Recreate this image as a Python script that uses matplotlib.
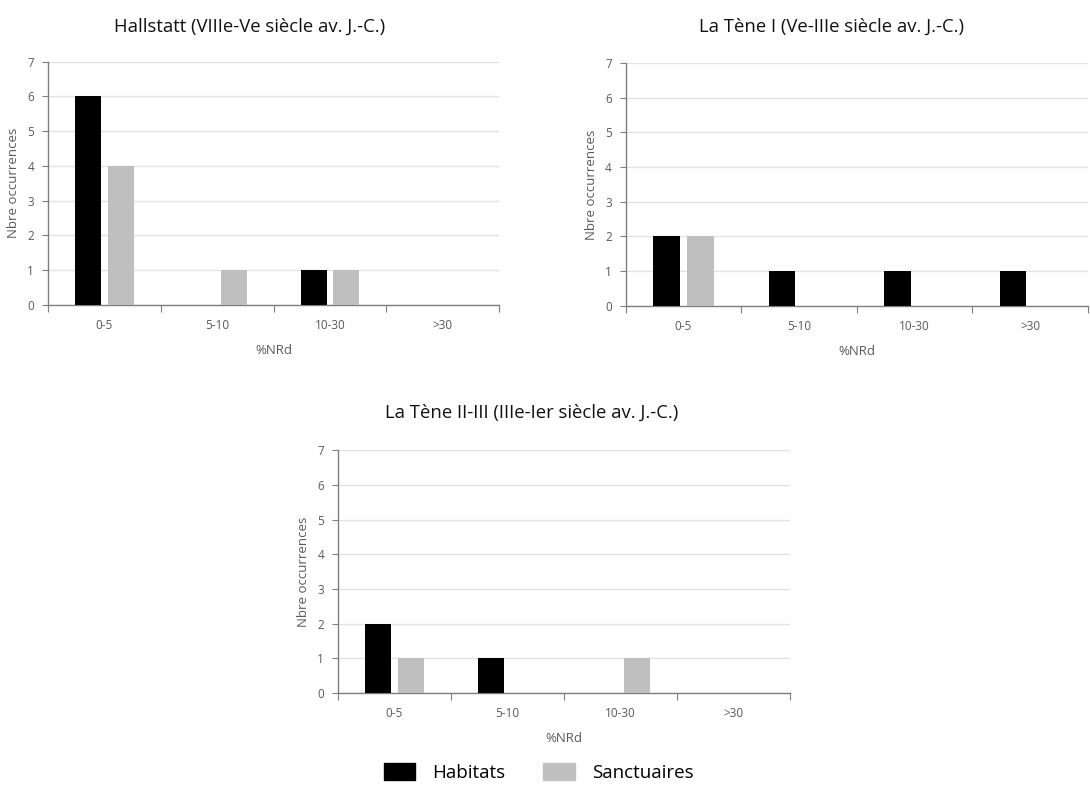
import matplotlib
matplotlib.use("Agg")
import matplotlib.pyplot as plt
from matplotlib.patches import Patch
import numpy as np

plt.rcParams['font.family'] = ['Open Sans', 'DejaVu Sans']

# data
categories = ['0-5', '5-10', '10-30', '>30']
titles = ['Hallstatt (VIIIe-Ve siècle av. J.-C.)',
          'La Tène I (Ve-IIIe siècle av. J.-C.)',
          'La Tène II-III (IIIe-Ier siècle av. J.-C.)']
habitats = [[6, 0, 1, 0],
            [2, 1, 1, 1],
            [2, 1, 0, 0]]
sanctuaires = [[4, 1, 1, 0],
               [2, 0, 0, 0],
               [1, 0, 1, 0]]

black = '#000000'
grey = '#bfbfbf'
axis_col = '#7f7f7f'
text_col = '#595959'

fig = plt.figure(figsize=(10.9, 7.9), dpi=100)

# axes rectangles [left, bottom, width, height] and title x position
rects = [[0.044, 0.614, 0.414, 0.308],
         [0.574, 0.613, 0.424, 0.307],
         [0.310, 0.123, 0.415, 0.307]]
title_pos = [(0.229, 0.966), (0.763, 0.966), (0.488, 0.477)]

x = np.arange(len(categories))
w = 0.23
off = 0.146

for i in range(3):
    ax = fig.add_axes(rects[i])
    ax.bar(x - off, habitats[i], width=w, color=black, zorder=3)
    ax.bar(x + off, sanctuaires[i], width=w, color=grey, zorder=3)
    ax.set_xlim(-0.5, 3.5)
    ax.set_ylim(0, 7)
    ax.set_yticks(range(8))
    ax.grid(axis='y', color='#e3e3e3', linewidth=1, zorder=0)
    ax.set_xticks([-0.5, 0.5, 1.5, 2.5, 3.5])
    ax.set_xticklabels([])
    ax.set_xticks(x, minor=True)
    ax.set_xticklabels(categories, minor=True)
    ax.tick_params(axis='x', which='major', length=5, color=axis_col, direction='out')
    ax.tick_params(axis='x', which='minor', length=0, labelsize=8.5, colors=text_col, pad=10)
    ax.tick_params(axis='y', length=4, color=axis_col, labelsize=8.5, labelcolor=text_col, pad=6)
    for s in ['top', 'right']:
        ax.spines[s].set_visible(False)
    for s in ['left', 'bottom']:
        ax.spines[s].set_color(axis_col)
        ax.spines[s].set_linewidth(1)
    ax.set_ylabel('Nbre occurrences', fontsize=9.5, color=text_col, labelpad=5)
    ax.set_xlabel('%NRd', fontsize=9.5, color=text_col, labelpad=9)
    fig.text(title_pos[i][0], title_pos[i][1], titles[i], ha='center', va='center',
             fontsize=13.3, color='#111111')

handles = [Patch(color=black, label='Habitats'), Patch(color=grey, label='Sanctuaires')]
fig.legend(handles=handles, loc='center', bbox_to_anchor=(0.494, 0.022), ncol=2,
           frameon=False, fontsize=13.5, handlelength=1.7, handleheight=0.95,
           columnspacing=2.0, handletextpad=0.9)

fig.savefig('out.png', dpi=100)
